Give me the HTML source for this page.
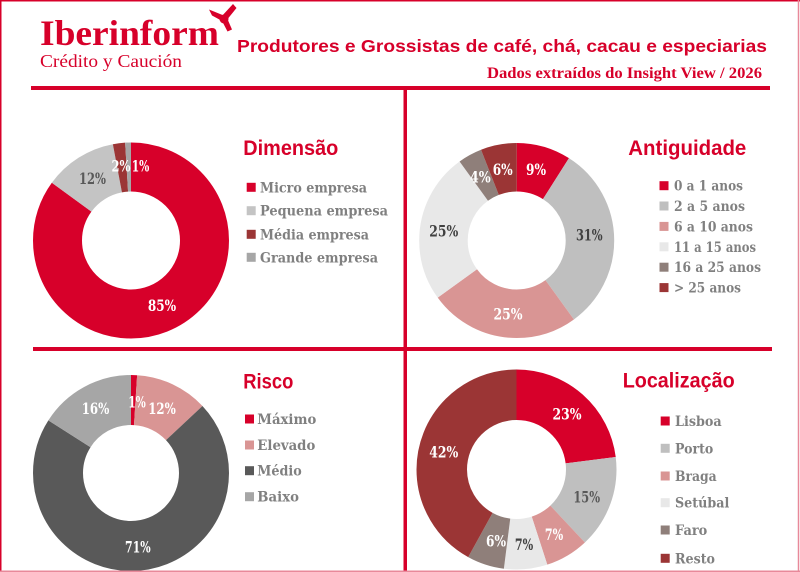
<!DOCTYPE html>
<html><head><meta charset="utf-8"><style>
html,body{margin:0;padding:0;background:#fff;}
svg{display:block;}
.t{font-family:"Liberation Sans",sans-serif;font-weight:bold;fill:#d7002a;}
.lg{font-family:"DejaVu Serif","Liberation Serif",serif;font-weight:bold;fill:#808080;font-size:14px;}
.pc{font-family:"DejaVu Serif","Liberation Serif",serif;font-weight:bold;font-size:15.5px;text-anchor:middle;}
</style></head><body>
<svg width="800" height="572" viewBox="0 0 800 572" xmlns="http://www.w3.org/2000/svg">
<rect x="0" y="0" width="800" height="572" fill="#fff"/>

<!-- Logo -->
<text x="40" y="45" font-family="Liberation Serif, serif" font-weight="bold" font-size="36" fill="#d7002a" textLength="179" lengthAdjust="spacingAndGlyphs">Iberinform</text>
<text x="40" y="67" font-family="Liberation Serif, serif" font-size="18" fill="#d7002a" textLength="142" lengthAdjust="spacingAndGlyphs">Crédito y Caución</text>
<g fill="#d7002a">
<polygon points="209,9.5 212,15.5 224,22 225,16"/>
<polygon points="233,4 236.5,8 226,21 221,17"/>
<polygon points="227.5,31.5 232,29.5 227,18 221,19"/>
<circle cx="224" cy="19" r="4.5"/>
</g>

<!-- Header titles -->
<text class="t" x="237" y="52" font-size="17.5" textLength="530" lengthAdjust="spacingAndGlyphs">Produtores e Grossistas de café, chá, cacau e especiarias</text>
<text x="487" y="78" font-family="Liberation Serif, serif" font-weight="bold" font-size="16" fill="#d7002a" textLength="275" lengthAdjust="spacingAndGlyphs">Dados extraídos do Insight View / 2026</text>

<!-- Frame lines -->
<rect x="31" y="86" width="739" height="4" fill="#d7002a"/>
<rect x="403.5" y="88" width="3.5" height="484" fill="#d7002a"/>
<rect x="33" y="347" width="739" height="4" fill="#d7002a"/>

<!-- Donut 1: Dimensão -->
<g transform="rotate(-90 131 240.5)" fill="none" stroke-width="49">
<circle cx="131" cy="240.5" r="73.5" stroke="#d7002a" stroke-dasharray="392.54 461.81" stroke-dashoffset="0"/>
<circle cx="131" cy="240.5" r="73.5" stroke="#c4c4c4" stroke-dasharray="55.42 461.81" stroke-dashoffset="-392.54"/>
<circle cx="131" cy="240.5" r="73.5" stroke="#9b3535" stroke-dasharray="9.24 461.81" stroke-dashoffset="-447.96"/>
<circle cx="131" cy="240.5" r="73.5" stroke="#a6a6a6" stroke-dasharray="4.62 461.81" stroke-dashoffset="-457.19"/>
</g>
<text class="pc" x="162" y="311" fill="#fff" textLength="28.3" lengthAdjust="spacingAndGlyphs">85%</text>
<text class="pc" x="92.5" y="184" fill="#595959" textLength="27" lengthAdjust="spacingAndGlyphs">12%</text>
<text class="pc" x="121" y="171.7" fill="#fff" textLength="19" lengthAdjust="spacingAndGlyphs">2%</text>
<text class="pc" x="140.5" y="171.7" fill="#fff" textLength="17.6" lengthAdjust="spacingAndGlyphs">1%</text>

<text class="t" x="243.3" y="155" font-size="21" textLength="95" lengthAdjust="spacingAndGlyphs">Dimensão</text>
<rect x="246.7" y="182.8" width="9" height="9" fill="#d7002a"/>
<rect x="246.7" y="206.2" width="9" height="9" fill="#c4c4c4"/>
<rect x="246.7" y="229.8" width="9" height="9" fill="#9b3535"/>
<rect x="246.7" y="252.8" width="9" height="9" fill="#a6a6a6"/>
<text class="lg" x="260" y="192.3" textLength="107" lengthAdjust="spacingAndGlyphs">Micro empresa</text>
<text class="lg" x="260" y="215.7" textLength="128" lengthAdjust="spacingAndGlyphs">Pequena empresa</text>
<text class="lg" x="260" y="239.3" textLength="109" lengthAdjust="spacingAndGlyphs">Média empresa</text>
<text class="lg" x="260" y="262.3" textLength="118" lengthAdjust="spacingAndGlyphs">Grande empresa</text>

<!-- Donut 2: Antiguidade -->
<g transform="rotate(-90 516.7 240.5)" fill="none" stroke-width="48.5">
<circle cx="516.7" cy="240.5" r="73.25" stroke="#d7002a" stroke-dasharray="41.42 460.24" stroke-dashoffset="0"/>
<circle cx="516.7" cy="240.5" r="73.25" stroke="#bfbfbf" stroke-dasharray="142.67 460.24" stroke-dashoffset="-41.42"/>
<circle cx="516.7" cy="240.5" r="73.25" stroke="#d99594" stroke-dasharray="115.06 460.24" stroke-dashoffset="-184.10"/>
<circle cx="516.7" cy="240.5" r="73.25" stroke="#e8e8e8" stroke-dasharray="115.06 460.24" stroke-dashoffset="-299.16"/>
<circle cx="516.7" cy="240.5" r="73.25" stroke="#8f7f7a" stroke-dasharray="18.41 460.24" stroke-dashoffset="-414.22"/>
<circle cx="516.7" cy="240.5" r="73.25" stroke="#9b3535" stroke-dasharray="27.61 460.24" stroke-dashoffset="-432.63"/>
</g>
<text class="pc" x="536" y="175" fill="#fff" textLength="20" lengthAdjust="spacingAndGlyphs">9%</text>
<text class="pc" x="502.7" y="175" fill="#fff" textLength="20" lengthAdjust="spacingAndGlyphs">6%</text>
<text class="pc" x="480.3" y="182.7" fill="#fff" textLength="20.7" lengthAdjust="spacingAndGlyphs">4%</text>
<text class="pc" x="443.8" y="236.7" fill="#404040" textLength="29" lengthAdjust="spacingAndGlyphs">25%</text>
<text class="pc" x="589.3" y="240.7" fill="#404040" textLength="26.7" lengthAdjust="spacingAndGlyphs">31%</text>
<text class="pc" x="508" y="319.3" fill="#fff" textLength="29" lengthAdjust="spacingAndGlyphs">25%</text>

<text class="t" x="628.3" y="155" font-size="21" textLength="118" lengthAdjust="spacingAndGlyphs">Antiguidade</text>
<rect x="659.5" y="181.2" width="9" height="9" fill="#d7002a"/>
<rect x="659.5" y="201.5" width="9" height="9" fill="#bfbfbf"/>
<rect x="659.5" y="221.9" width="9" height="9" fill="#d99594"/>
<rect x="659.5" y="242.3" width="9" height="9" fill="#e8e8e8"/>
<rect x="659.5" y="262.7" width="9" height="9" fill="#8f7f7a"/>
<rect x="659.5" y="283.1" width="9" height="9" fill="#9b3535"/>
<text class="lg" x="674" y="190.7" textLength="69" lengthAdjust="spacingAndGlyphs">0 a 1 anos</text>
<text class="lg" x="674" y="211" textLength="71" lengthAdjust="spacingAndGlyphs">2 a 5 anos</text>
<text class="lg" x="674" y="231.4" textLength="79" lengthAdjust="spacingAndGlyphs">6 a 10 anos</text>
<text class="lg" x="674" y="251.8" textLength="82" lengthAdjust="spacingAndGlyphs">11 a 15 anos</text>
<text class="lg" x="674" y="272.2" textLength="87" lengthAdjust="spacingAndGlyphs">16 a 25 anos</text>
<text class="lg" x="674" y="292.6" textLength="67" lengthAdjust="spacingAndGlyphs">&gt; 25 anos</text>

<!-- Donut 3: Risco -->
<g transform="rotate(-90 131 473)" fill="none" stroke-width="50">
<circle cx="131" cy="473" r="73" stroke="#d7002a" stroke-dasharray="4.59 458.67" stroke-dashoffset="0"/>
<circle cx="131" cy="473" r="73" stroke="#d99594" stroke-dasharray="55.04 458.67" stroke-dashoffset="-4.59"/>
<circle cx="131" cy="473" r="73" stroke="#595959" stroke-dasharray="325.66 458.67" stroke-dashoffset="-59.63"/>
<circle cx="131" cy="473" r="73" stroke="#a6a6a6" stroke-dasharray="73.39 458.67" stroke-dashoffset="-385.28"/>
</g>
<text class="pc" x="137" y="407.7" fill="#fff" textLength="17.6" lengthAdjust="spacingAndGlyphs">1%</text>
<text class="pc" x="162" y="414" fill="#fff" textLength="27.6" lengthAdjust="spacingAndGlyphs">12%</text>
<text class="pc" x="95.5" y="414" fill="#fff" textLength="27.6" lengthAdjust="spacingAndGlyphs">16%</text>
<text class="pc" x="137.8" y="552.3" fill="#fff" textLength="25.7" lengthAdjust="spacingAndGlyphs">71%</text>

<text class="t" x="243.3" y="388.3" font-size="21" textLength="50" lengthAdjust="spacingAndGlyphs">Risco</text>
<rect x="245" y="414.5" width="9" height="9" fill="#d7002a"/>
<rect x="245" y="440.5" width="9" height="9" fill="#d99594"/>
<rect x="245" y="466.2" width="9" height="9" fill="#595959"/>
<rect x="245" y="492.2" width="9" height="9" fill="#a6a6a6"/>
<text class="lg" x="257.3" y="424" textLength="59" lengthAdjust="spacingAndGlyphs">Máximo</text>
<text class="lg" x="257.3" y="450" textLength="58" lengthAdjust="spacingAndGlyphs">Elevado</text>
<text class="lg" x="257.3" y="475.7" textLength="44.4" lengthAdjust="spacingAndGlyphs">Médio</text>
<text class="lg" x="257.3" y="501.7" textLength="41.7" lengthAdjust="spacingAndGlyphs">Baixo</text>

<!-- Donut 4: Localização -->
<g transform="rotate(-90 516.5 469.5)" fill="none" stroke-width="50.5">
<circle cx="516.5" cy="469.5" r="74.75" stroke="#d7002a" stroke-dasharray="108.02 469.67" stroke-dashoffset="0"/>
<circle cx="516.5" cy="469.5" r="74.75" stroke="#bfbfbf" stroke-dasharray="70.45 469.67" stroke-dashoffset="-108.02"/>
<circle cx="516.5" cy="469.5" r="74.75" stroke="#d99594" stroke-dasharray="32.88 469.67" stroke-dashoffset="-178.47"/>
<circle cx="516.5" cy="469.5" r="74.75" stroke="#e8e8e8" stroke-dasharray="32.88 469.67" stroke-dashoffset="-211.35"/>
<circle cx="516.5" cy="469.5" r="74.75" stroke="#8f7f7a" stroke-dasharray="28.18 469.67" stroke-dashoffset="-244.23"/>
<circle cx="516.5" cy="469.5" r="74.75" stroke="#9b3535" stroke-dasharray="197.26 469.67" stroke-dashoffset="-272.41"/>
</g>
<text class="pc" x="567" y="419.3" fill="#fff" textLength="29" lengthAdjust="spacingAndGlyphs">23%</text>
<text class="pc" x="443.8" y="457.3" fill="#fff" textLength="29" lengthAdjust="spacingAndGlyphs">42%</text>
<text class="pc" x="586.7" y="502.3" fill="#595959" textLength="26.7" lengthAdjust="spacingAndGlyphs">15%</text>
<text class="pc" x="554" y="540" fill="#fff" textLength="18.3" lengthAdjust="spacingAndGlyphs">7%</text>
<text class="pc" x="524" y="550" fill="#404040" textLength="18.3" lengthAdjust="spacingAndGlyphs">7%</text>
<text class="pc" x="496" y="546.7" fill="#fff" textLength="20" lengthAdjust="spacingAndGlyphs">6%</text>

<text class="t" x="622.7" y="387.7" font-size="21.5" textLength="112" lengthAdjust="spacingAndGlyphs">Localização</text>
<rect x="660.7" y="416.5" width="9" height="9" fill="#d7002a"/>
<rect x="660.7" y="443.8" width="9" height="9" fill="#bfbfbf"/>
<rect x="660.7" y="471.5" width="9" height="9" fill="#d99594"/>
<rect x="660.7" y="498.2" width="9" height="9" fill="#e8e8e8"/>
<rect x="660.7" y="525.5" width="9" height="9" fill="#8f7f7a"/>
<rect x="660.7" y="553.8" width="9" height="9" fill="#9b3535"/>
<text class="lg" x="675" y="426" textLength="46.7" lengthAdjust="spacingAndGlyphs">Lisboa</text>
<text class="lg" x="675" y="453.3" textLength="38.3" lengthAdjust="spacingAndGlyphs">Porto</text>
<text class="lg" x="675" y="481" textLength="41.7" lengthAdjust="spacingAndGlyphs">Braga</text>
<text class="lg" x="675" y="507.7" textLength="54.3" lengthAdjust="spacingAndGlyphs">Setúbal</text>
<text class="lg" x="675" y="535" textLength="32.3" lengthAdjust="spacingAndGlyphs">Faro</text>
<text class="lg" x="675" y="563.3" textLength="40" lengthAdjust="spacingAndGlyphs">Resto</text>

<!-- Outer border -->
<line x1="0" y1="0.75" x2="800" y2="0.75" stroke="#d7002a" stroke-width="1.5"/>
<line x1="0.75" y1="0" x2="0.75" y2="572" stroke="#d7002a" stroke-width="1.5"/>
<line x1="798.5" y1="0" x2="798.5" y2="572" stroke="#e8899a" stroke-width="1.5"/>
<line x1="0" y1="571.25" x2="800" y2="571.25" stroke="#e8899a" stroke-width="1.5"/>
</svg>
</body></html>
